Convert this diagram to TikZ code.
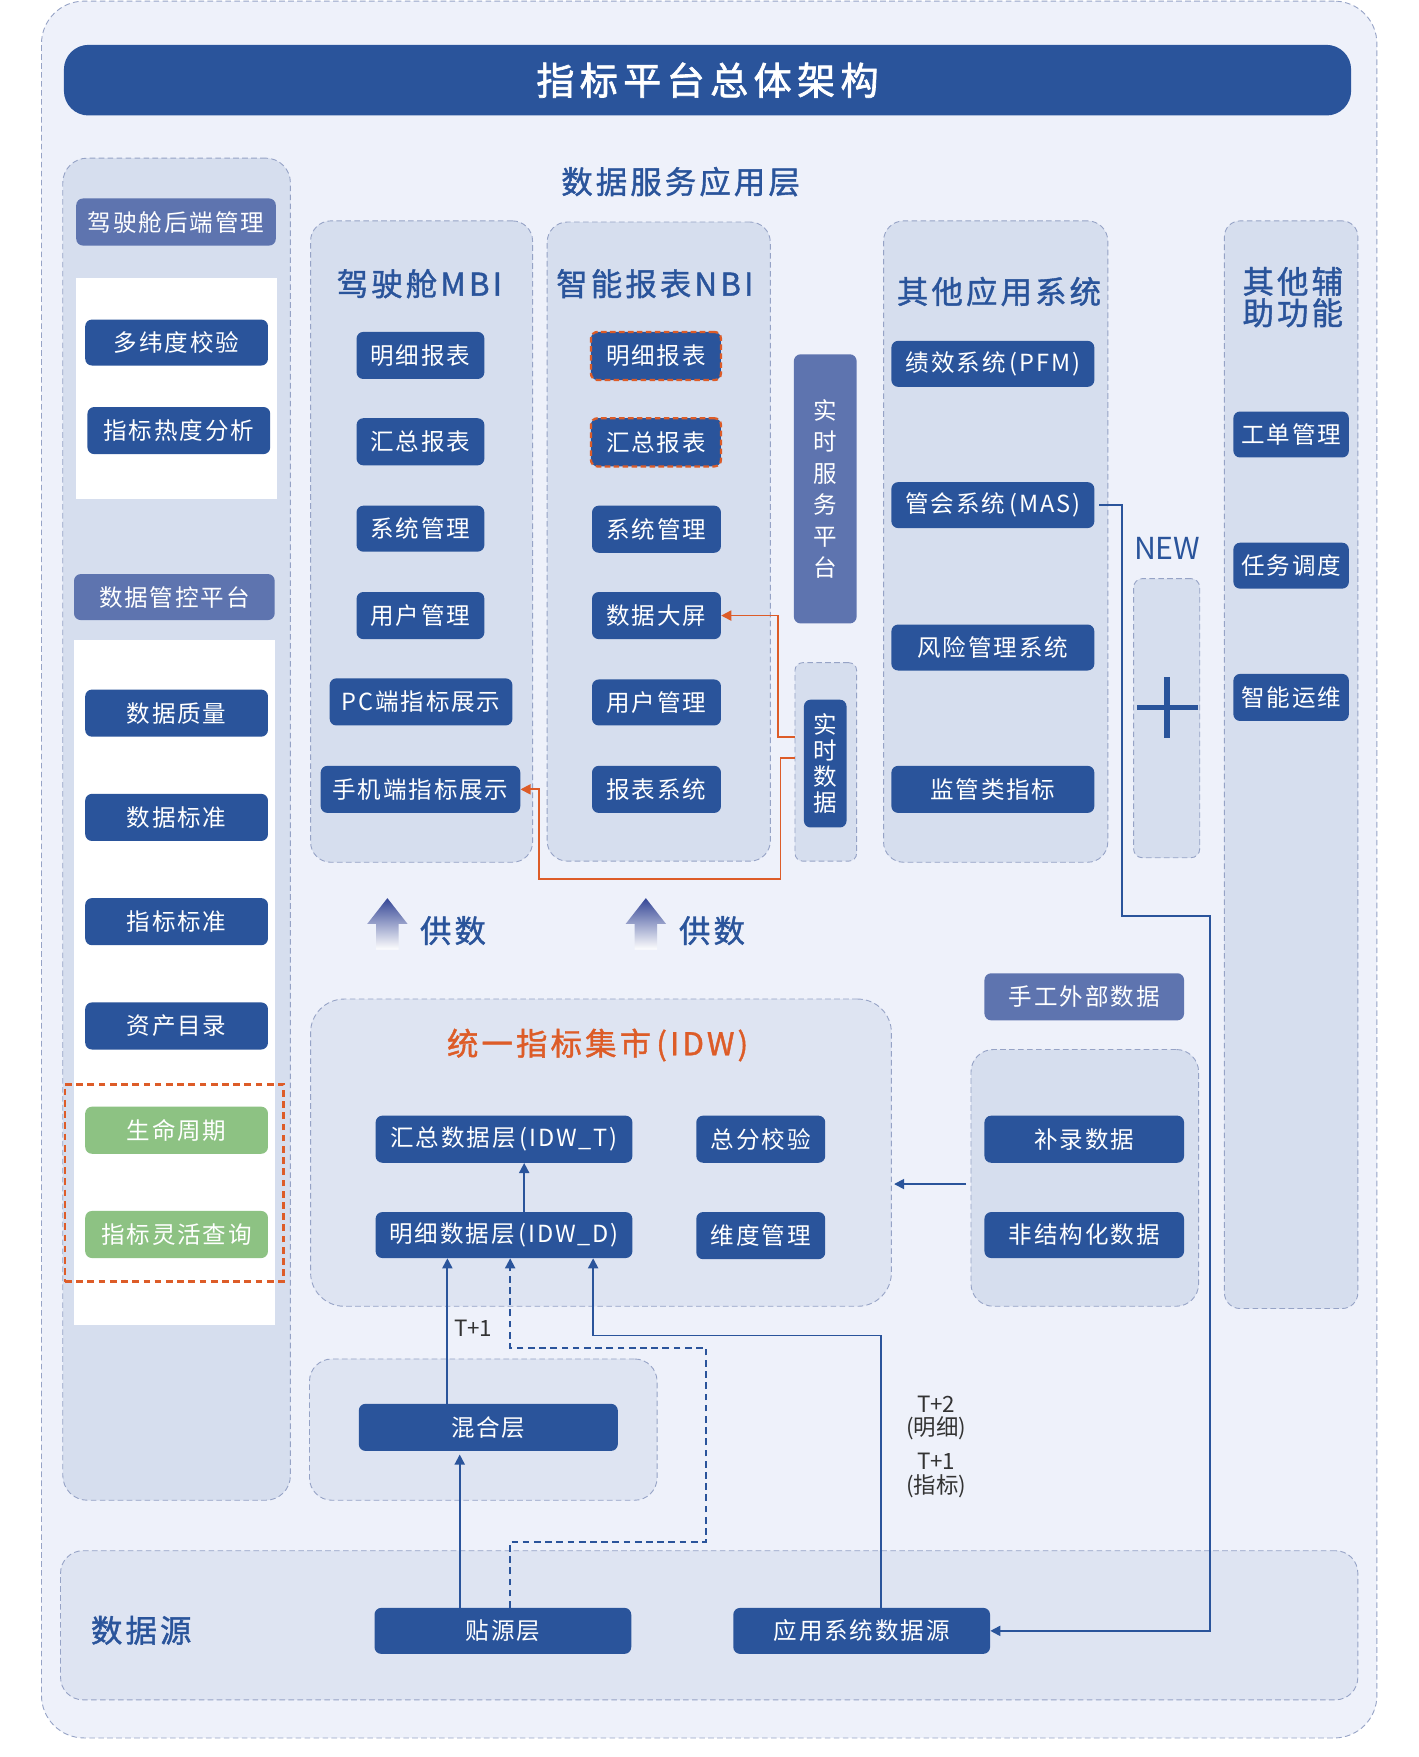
\documentclass[tikz,border=0pt]{standalone}
\usepackage{fontspec}
\setmainfont{Noto Sans CJK SC}
\newfontfamily\cjkA[LetterSpace=8]{Noto Sans CJK SC}
\newfontfamily\cjkB[LetterSpace=10, FakeBold=1.3]{Noto Sans CJK SC}
\newfontfamily\cjkT[LetterSpace=14, FakeBold=1.8]{Noto Sans CJK SC}
\usetikzlibrary{arrows.meta}
\definecolor{dblue}{RGB}{42,84,155}
\definecolor{mblue}{RGB}{94,116,175}
\definecolor{panelc}{RGB}{214,222,238}
\definecolor{panelb}{RGB}{222,228,242}
\definecolor{bgc}{RGB}{238,241,250}
\definecolor{dashc}{RGB}{150,163,198}
\definecolor{orangec}{RGB}{221,92,40}
\definecolor{greenc}{RGB}{141,194,131}
\definecolor{grayt}{RGB}{51,51,51}
\definecolor{shadec}{RGB}{52,70,150}
\newcommand\bx[7]{\node[#6, minimum width={(#4)-(#2)}, minimum height={(#5)-(#3)}] (#1) at ({((#2)+(#4))/2},{((#3)+(#5))/2}) {#7};}
\tikzset{
  outer/.style={draw=dashc, dash pattern=on 5pt off 3pt, line width=0.8pt, fill=bgc, rounded corners=38pt, inner sep=0pt},
  tbar/.style={fill=dblue, rounded corners=22pt, text=white, inner sep=0pt, font=\cjkT\fontsize{34}{40}\selectfont},
  panel/.style={draw=dashc, dash pattern=on 5pt off 3pt, line width=0.8pt, fill=panelc, rounded corners=18pt, inner sep=0pt},
  panelL/.style={panel, fill=panelb},
  wbox/.style={fill=white, inner sep=0pt},
  dbox/.style={fill=dblue, rounded corners=6pt, text=white, inner sep=0pt, font=\cjkA\fontsize{21}{26}\selectfont},
  mbox/.style={dbox, fill=mblue},
  gbox/.style={dbox, fill=greenc},
  obox/.style={dbox, draw=orangec, dash pattern=on 5pt off 3pt, line width=2pt},
  odash/.style={draw=orangec, dash pattern=on 6pt off 4pt, line width=2.5pt, inner sep=0pt},
  vtext/.style={align=center, font=\cjkA\fontsize{21}{28}\selectfont},
  hd/.style={text=dblue, inner sep=0pt, font=\cjkB\fontsize{28}{28}\selectfont},
  lbl/.style={text=grayt, inner sep=0pt, align=center, font=\fontsize{20}{21}\selectfont},
  conn/.style={draw=dblue, line width=1.6pt, -{Triangle[length=9pt,width=9pt]}},
  dconn/.style={conn, dash pattern=on 6pt off 4pt},
  oconn/.style={draw=orangec, line width=1.6pt, -{Triangle[length=9pt,width=9pt]}},
}
\begin{document}
\begin{tikzpicture}[x=1pt,y=-1pt]
\useasboundingbox (0,0) rectangle (1265,1567);
\fill[white] (0,0) rectangle (1265,1567);
\bx{frame}{37}{1}{1228}{1550}{outer}{}
\bx{titlebar}{57}{40}{1205}{103}{tbar}{指标平台总体架构}
\node[hd] (svc) at (607,162) {数据服务应用层};

% left column
\bx{lp}{56}{141}{259}{1338}{panel, rounded corners=22pt}{}
\bx{bk}{68}{177}{246}{219}{mbox}{驾驶舱后端管理}
\bx{w1}{68}{248}{247}{445}{wbox}{}
\bx{dwd}{76}{285}{239}{326}{dbox}{多纬度校验}
\bx{rdfx}{78}{363}{241}{405}{dbox}{指标热度分析}
\bx{gk}{66}{512}{245}{553}{mbox}{数据管控平台}
\bx{w2}{66}{571}{245}{1182}{wbox}{}
\bx{sjzl}{76}{615}{239}{657}{dbox}{数据质量}
\bx{sjbz}{76}{708}{239}{750}{dbox}{数据标准}
\bx{zbbz}{76}{801}{239}{843}{dbox}{指标标准}
\bx{zcml}{76}{894}{239}{936}{dbox}{资产目录}
\bx{odr}{58}{967}{253}{1143}{odash}{}
\bx{smzq}{76}{987}{239}{1029}{gbox}{生命周期}
\bx{lhcx}{76}{1080}{239}{1122}{gbox}{指标灵活查询}

% MBI
\bx{mbip}{277}{197}{475}{769}{panel}{}
\node[hd] (mbih) at (374,253) {驾驶舱MBI};
\bx{m1}{318}{296}{432}{338}{dbox}{明细报表}
\bx{m2}{318}{373}{432}{415}{dbox}{汇总报表}
\bx{m3}{318}{451}{432}{492}{dbox}{系统管理}
\bx{m4}{318}{528}{432}{570}{dbox}{用户管理}
\bx{m5}{294}{605}{457}{647}{dbox}{PC端指标展示}
\bx{m6}{286}{683}{464}{725}{dbox}{手机端指标展示}

% NBI
\bx{nbip}{488}{198}{687}{768}{panel}{}
\node[hd] (nbih) at (584,253) {智能报表NBI};
\bx{n1}{527}{296}{643}{339}{obox}{明细报表}
\bx{n2}{527}{373}{643}{416}{obox}{汇总报表}
\bx{n3}{528}{451}{643}{493}{dbox}{系统管理}
\bx{n4}{528}{528}{643}{570}{dbox}{数据大屏}
\bx{n5}{528}{606}{643}{647}{dbox}{用户管理}
\bx{n6}{528}{683}{643}{725}{dbox}{报表系统}

% realtime
\bx{rtsp}{708}{316}{764}{556}{mbox, vtext}{实\\时\\服\\务\\平\\台}
\bx{rtdp}{709}{591}{764}{768}{panel, rounded corners=7pt}{}
\bx{rtd}{717}{624}{755}{738}{dbox, vtext, font=\cjkA\fontsize{21}{23}\selectfont}{实\\时\\数\\据}

% other apps
\bx{othp}{788}{197}{988}{769}{panel}{}
\node[hd] (othh) at (891,260) {其他应用系统};
\bx{o1}{795}{304}{976}{345}{dbox}{绩效系统\,(PFM)}
\bx{o2}{795}{430}{976}{471}{dbox}{管会系统\,(MAS)}
\bx{o3}{795}{557}{976}{598}{dbox}{风险管理系统}
\bx{o4}{795}{683}{976}{725}{dbox}{监管类指标}

% NEW
\node[text=dblue, inner sep=0pt, font=\fontsize{27}{27}\selectfont] (newl) at (1041,489) {NEW};
\bx{newp}{1011}{516}{1070}{765}{panel, rounded corners=8pt}{}
\draw[dblue, line width=5pt] (1014,631) -- (1068,631);
\draw[dblue, line width=5pt] (1041,604) -- (1041,658);

% aux
\bx{auxp}{1092}{197}{1211}{1167}{panel, rounded corners=14pt}{}
\node[hd, align=center] (auxh) at (1153,265) {其他辅\\助功能};
\bx{a1}{1100}{367}{1203}{408}{dbox}{工单管理}
\bx{a2}{1100}{484}{1203}{525}{dbox}{任务调度}
\bx{a3}{1100}{601}{1203}{643}{dbox}{智能运维}

% supply arrows
\shade[top color=shadec, bottom color=white] (345.5,801) -- (363.5,824) -- (355.5,824) -- (355.5,847) -- (335.5,847) -- (335.5,824) -- (327.5,824) -- cycle;
\node[hd] (gs1) at (404,830) {供数};
\shade[top color=shadec, bottom color=white] (576,801) -- (594,824) -- (586,824) -- (586,847) -- (566,847) -- (566,824) -- (558,824) -- cycle;
\node[hd] (gs2) at (635,830) {供数};

% IDW
\bx{idw}{277}{891}{795}{1165}{panelL, rounded corners=30pt}{}
\node[hd, text=orangec] (idwh) at (533,932) {统一指标集市\,(IDW)};
\bx{t}{335}{995}{564}{1037}{dbox}{汇总数据层\,(IDW\_T)}
\bx{d}{335}{1081}{564}{1122}{dbox}{明细数据层\,(IDW\_D)}
\bx{zfjy}{621}{995}{736}{1037}{dbox}{总分校验}
\bx{wdgl}{621}{1081}{736}{1123}{dbox}{维度管理}

% manual data
\bx{sg}{878}{868}{1056}{910}{mbox}{手工外部数据}
\bx{blp}{866}{936}{1069}{1165}{panel, rounded corners=20pt}{}
\bx{bl}{878}{995}{1056}{1037}{dbox}{补录数据}
\bx{fjg}{878}{1081}{1056}{1122}{dbox}{非结构化数据}

% mixed layer
\bx{hhp}{276}{1212}{586}{1338}{panelL, rounded corners=20pt}{}
\bx{hh}{320}{1252}{551}{1294}{dbox}{混合层}

% data source
\bx{dsp}{54}{1383}{1211}{1516}{panelL, rounded corners=20pt}{}
\node[hd] (dsh) at (126,1454) {数据源};
\bx{ty}{334}{1434}{563}{1475}{dbox}{贴源层}
\bx{yy}{654}{1434}{883}{1475}{dbox}{应用系统数据源}

% connectors
\draw[conn] (d.north -| 467.5,0) -- (t.south -| 467.5,0);
\draw[conn] (hh.north -| 399,0) -- (d.south -| 399,0);
\node[lbl] (tp1) at (422,1185) {T+1};
\draw[conn] (ty.north -| 410,0) -- ([yshift=-3pt]hh.south -| 410,0);
\draw[dconn] (ty.north -| 455,0) -- (455,1375) -- (630,1375) -- (630,1202) -- (455,1202) -- (d.south -| 455,0);
\draw[conn] (yy.north -| 785.5,0) |- (529,1191) -- (d.south -| 529,0);
\node[lbl] (tp2) at (835,1264.5) {T+2\\(明细)};
\node[lbl] (tp3) at (835,1316) {T+1\\(指标)};
\draw[conn] ([xshift=4pt]o2.east) -- (1001,450.5) -- (1001,817) -- (1079,817) |- (yy.east);
\draw[conn, shorten >=2pt] ([xshift=-4pt]blp.west |- 0,1056) -- (idw.east |- 0,1056);
\draw[oconn] (rtdp.west |- 0,657.5) -- (694,657.5) |- (n4.east);
\draw[oconn] (rtdp.west |- 0,676) -- (696,676) -- (696,784) -- (481,784) |- (m6.east);
\end{tikzpicture}
\end{document}
